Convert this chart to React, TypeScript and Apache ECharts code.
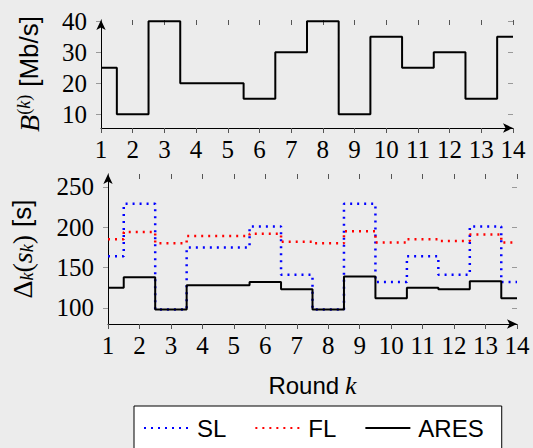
import React, { useEffect, useRef } from "react";
import * as echarts from "echarts";

const rounds = [1, 2, 3, 4, 5, 6, 7, 8, 9, 10, 11, 12, 13, 14];
const bandwidth = [25, 10, 40, 20, 20, 15, 30, 40, 10, 35, 25, 30, 15, 35];
const slDelay = [164, 229, 98, 175, 175, 201, 141, 98, 229, 132, 164, 141, 201, 132];
const flDelay = [185, 194, 180, 189, 189, 192, 182, 180, 195, 181, 185, 183, 191, 181];
const aresDelay = [125, 138, 98, 128, 128, 132, 123, 98, 139, 112, 125, 123, 133, 112];
const bandwidthTicks = [10, 20, 30, 40];
const delayTicks = [100, 150, 200, 250];

const SERIF = "Liberation Serif";
const SANS = "Liberation Sans";

const pair = (ys: number[]) => rounds.map((r, i) => [r, ys[i]]);

export default function App() {
  const ref = useRef<HTMLDivElement>(null);
  useEffect(() => {
    if (!ref.current) return;
    const chart = echarts.init(ref.current, undefined, { renderer: "svg" });
    const labelStyle = { fontFamily: SERIF, fontSize: 25, color: "#000" };
    const xMain = (gridIndex: number, name?: string) => ({
      type: "value",
      gridIndex,
      min: 1,
      max: 14,
      interval: 1,
      name,
      nameLocation: "middle",
      nameGap: 48,
      nameTextStyle: {
        rich: {
          r: { fontFamily: SANS, fontSize: 24, color: "#000" },
          k: { fontFamily: SERIF, fontStyle: "italic", fontSize: 26, color: "#000", padding: [0, 0, 0, 6] },
        },
      },
      axisLine: { show: true, lineStyle: { color: "#000", width: 1 }, symbol: ["none", "arrow"], symbolSize: [7, 10] },
      axisTick: { show: true, inside: false, length: 5, lineStyle: { color: "#555" } },
      axisLabel: { ...labelStyle, margin: 9 },
      splitLine: { show: false },
    });
    const xInner = (gridIndex: number) => ({
      type: "value",
      gridIndex,
      min: 1,
      max: 14,
      interval: 1,
      axisLine: { show: false },
      axisTick: { show: true, inside: true, length: 5, lineStyle: { color: "#555" } },
      axisLabel: { show: false },
      splitLine: { show: false },
    });
    const yMain = (gridIndex: number, min: number, max: number, ticks: number[], name: string, nameGap: number, rich: any) => ({
      type: "value",
      gridIndex,
      min,
      max,
      name,
      nameLocation: "middle",
      nameRotate: 90,
      nameGap,
      nameTextStyle: { rich },
      axisLine: { show: true, lineStyle: { color: "#000", width: 1 }, symbol: ["none", "arrow"], symbolSize: [7, 10] },
      axisTick: { show: true, inside: false, length: 5, lineStyle: { color: "#999" }, customValues: ticks },
      axisLabel: { ...labelStyle, margin: 14, customValues: ticks },
      splitLine: { show: false },
    });
    const yInner = (gridIndex: number, min: number, max: number, ticks: number[]) => ({
      type: "value",
      gridIndex,
      min,
      max,
      axisLine: { show: false },
      axisTick: { show: true, inside: true, length: 5, lineStyle: { color: "#999" }, customValues: ticks },
      axisLabel: { show: false, customValues: ticks },
      splitLine: { show: false },
    });

    const mathRich = {
      m: { fontFamily: SERIF, fontStyle: "italic", fontSize: 28, color: "#000" },
      p: { fontFamily: SERIF, fontSize: 28, color: "#000" },
      sup: { fontFamily: SERIF, fontStyle: "italic", fontSize: 18, color: "#000", verticalAlign: "top" },
      supp: { fontFamily: SERIF, fontSize: 18, color: "#000", verticalAlign: "top" },
      sub: { fontFamily: SERIF, fontStyle: "italic", fontSize: 18, color: "#000", verticalAlign: "bottom" },
      u: { fontFamily: SANS, fontSize: 26, color: "#000", padding: [0, 0, 0, 8] },
    };

    chart.setOption({
      animation: false,
      backgroundColor: "#ececec",
      textStyle: { fontFamily: SERIF },
      grid: [
        { left: 101, top: 20, width: 412, height: 108 },
        { left: 106, top: 174, width: 411, height: 150 },
      ],
      xAxis: [xMain(0), xInner(0), xMain(1, "{r|Round}{k|k}"), xInner(1)],
      yAxis: [
        yMain(0, 5.6, 40.4, bandwidthTicks, "{m|B}{supp|(}{sup|k}{supp|)}{u|[Mb/s]}", 58, mathRich),
        yInner(0, 5.6, 40.4, bandwidthTicks),
        yMain(1, 80, 266, delayTicks, "{p|Δ}{sub|k}{p|(}{m|s}{sub|k}{p|)}{u|[s]}", 72, mathRich),
        yInner(1, 80, 266, delayTicks),
      ],
      legend: {
        data: ["SL", "FL", "ARES"],
        left: 134,
        top: 406,
        orient: "horizontal",
        itemWidth: 45,
        itemHeight: 14,
        itemGap: 28,
        padding: [10, 18, 12, 9],
        backgroundColor: "#fff",
        borderColor: "#000",
        borderWidth: 1,
        borderRadius: 0,
        itemStyle: { opacity: 0 },
        textStyle: { fontFamily: SANS, fontSize: 24, color: "#000", padding: [0, 0, 0, 3] },
      },
      series: [
        {
          name: "Bandwidth",
          type: "line",
          step: "middle",
          xAxisIndex: 0,
          yAxisIndex: 0,
          data: pair(bandwidth),
          symbol: "none",
          lineStyle: { color: "#000", width: 2 },
        },
        {
          name: "SL",
          type: "line",
          step: "middle",
          xAxisIndex: 2,
          yAxisIndex: 2,
          data: pair(slDelay),
          symbol: "none",
          itemStyle: { color: "#0000ff" },
          lineStyle: { color: "#0000ff", width: 2.5, type: [2, 5] },
        },
        {
          name: "FL",
          type: "line",
          step: "middle",
          xAxisIndex: 2,
          yAxisIndex: 2,
          data: pair(flDelay),
          symbol: "none",
          itemStyle: { color: "#ff0000" },
          lineStyle: { color: "#ff0000", width: 2.5, type: [2, 5] },
        },
        {
          name: "ARES",
          type: "line",
          step: "middle",
          xAxisIndex: 2,
          yAxisIndex: 2,
          data: pair(aresDelay),
          symbol: "none",
          itemStyle: { color: "#000" },
          lineStyle: { color: "#000", width: 2 },
        },
      ],
    });
    return () => chart.dispose();
  }, []);
  return (
    <div
      ref={ref}
      style={{ position: "fixed", left: 0, top: 0, width: 533, height: 448 }}
    />
  );
}
